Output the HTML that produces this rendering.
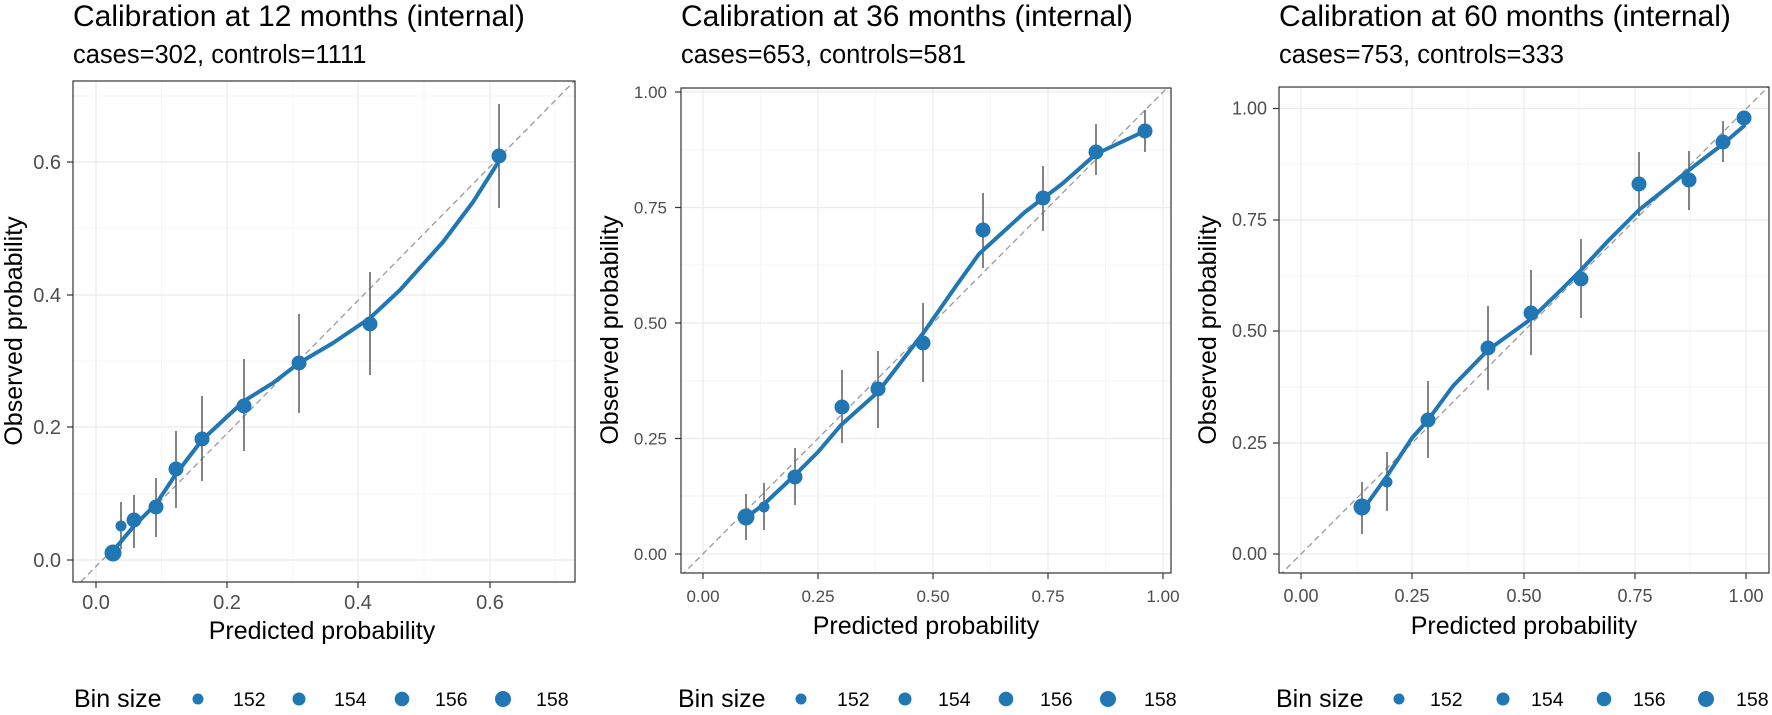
<!DOCTYPE html>
<html><head><meta charset="utf-8"><style>
html,body{margin:0;padding:0;background:#fff;}
svg{display:block;font-family:"Liberation Sans",Arial,sans-serif;}
.gM{stroke:#ebebeb;stroke-width:1.2;}
.gm{stroke:#f2f2f2;stroke-width:0.7;}
.tk{font-size:20px;fill:#4d4d4d;}
.tk2{font-size:17px;fill:#4d4d4d;}
.tk3{font-size:18px;fill:#4d4d4d;}
.at{font-size:25px;fill:#000;}
.ti{font-size:30px;fill:#000;}
.st{font-size:25.5px;fill:#000;}
.lg{font-size:25px;fill:#000;}
.ln{font-size:19.5px;fill:#000;}
.box{fill:none;stroke:#333;stroke-width:1.2;}
.dg{stroke:#999;stroke-width:1.3;stroke-dasharray:6,4;}
.eb{stroke:#666;stroke-width:1.6;}
.cv{fill:none;stroke:#2077b4;stroke-width:4;stroke-linejoin:round;stroke-linecap:round;}
.pt{fill:#2077b4;}
.tm{stroke:#333;stroke-width:1.2;}
</style></head><body>
<svg width="1772" height="715" viewBox="0 0 1772 715">
<defs>
<clipPath id="c1"><rect x="73" y="81" width="502" height="501"/></clipPath>
<clipPath id="c2"><rect x="681" y="88" width="490" height="485"/></clipPath>
<clipPath id="c3"><rect x="1279" y="87" width="490" height="486"/></clipPath>
</defs>

<!-- PANEL 1 -->
<text class="ti" x="73" y="26">Calibration at 12 months (internal)</text>
<text class="st" x="73" y="63">cases=302, controls=1111</text>
<g>
<line class="gm" x1="73" x2="575" y1="494" y2="494"/><line class="gm" x1="73" x2="575" y1="361" y2="361"/><line class="gm" x1="73" x2="575" y1="228" y2="228"/><line class="gm" x1="73" x2="575" y1="96" y2="96"/>
<line class="gm" y1="81" y2="582" x1="161.5" x2="161.5"/><line class="gm" y1="81" y2="582" x1="292.5" x2="292.5"/><line class="gm" y1="81" y2="582" x1="424" x2="424"/><line class="gm" y1="81" y2="582" x1="555" x2="555"/>
<line class="gM" x1="73" x2="575" y1="560" y2="560"/><line class="gM" x1="73" x2="575" y1="427" y2="427"/><line class="gM" x1="73" x2="575" y1="295" y2="295"/><line class="gM" x1="73" x2="575" y1="162" y2="162"/>
<line class="gM" y1="81" y2="582" x1="96" x2="96"/><line class="gM" y1="81" y2="582" x1="227" x2="227"/><line class="gM" y1="81" y2="582" x1="358" x2="358"/><line class="gM" y1="81" y2="582" x1="490" x2="490"/>
<g clip-path="url(#c1)">
<line class="dg" x1="60" y1="603" x2="600" y2="55"/>
<line class="eb" x1="121" x2="121" y1="502" y2="549"/>
<line class="eb" x1="134" x2="134" y1="495" y2="548"/>
<line class="eb" x1="156" x2="156" y1="478" y2="537"/>
<line class="eb" x1="176" x2="176" y1="431" y2="508"/>
<line class="eb" x1="202" x2="202" y1="396" y2="481"/>
<line class="eb" x1="244" x2="244" y1="359" y2="451"/>
<line class="eb" x1="299" x2="299" y1="314" y2="413"/>
<line class="eb" x1="370" x2="370" y1="272" y2="375"/>
<line class="eb" x1="499" x2="499" y1="104" y2="208"/>
<polyline class="cv" points="113,551 134,526 156,504 176,474 202,440 244,401 273,383 299,363 333,343 370,318 400,290 443,242 473,202 499,161"/>
<circle class="pt" cx="113" cy="553" r="8.5"/>
<circle class="pt" cx="121" cy="526" r="5.5"/>
<circle class="pt" cx="134" cy="520" r="7.5"/>
<circle class="pt" cx="156" cy="507" r="7.5"/>
<circle class="pt" cx="176" cy="469" r="7.5"/>
<circle class="pt" cx="202" cy="439" r="7.5"/>
<circle class="pt" cx="244" cy="406" r="7.5"/>
<circle class="pt" cx="299" cy="363" r="7.5"/>
<circle class="pt" cx="370" cy="324" r="7.5"/>
<circle class="pt" cx="499" cy="156" r="7.5"/>
</g>
<rect class="box" x="73" y="81" width="502" height="501"/>
<line class="tm" x1="67" x2="73" y1="560" y2="560"/><line class="tm" x1="67" x2="73" y1="427" y2="427"/><line class="tm" x1="67" x2="73" y1="295" y2="295"/><line class="tm" x1="67" x2="73" y1="162" y2="162"/>
<line class="tm" y1="582" y2="588" x1="96" x2="96"/><line class="tm" y1="582" y2="588" x1="227" x2="227"/><line class="tm" y1="582" y2="588" x1="358" x2="358"/><line class="tm" y1="582" y2="588" x1="490" x2="490"/>
<text class="tk" text-anchor="end" x="61" y="567">0.0</text><text class="tk" text-anchor="end" x="61" y="434">0.2</text><text class="tk" text-anchor="end" x="61" y="302">0.4</text><text class="tk" text-anchor="end" x="61" y="169">0.6</text>
<text class="tk" text-anchor="middle" x="96" y="609">0.0</text><text class="tk" text-anchor="middle" x="227" y="609">0.2</text><text class="tk" text-anchor="middle" x="358" y="609">0.4</text><text class="tk" text-anchor="middle" x="490" y="609">0.6</text>
<text class="at" text-anchor="middle" x="322" y="639">Predicted probability</text>
<text class="at" text-anchor="middle" transform="translate(22,331) rotate(-90)">Observed probability</text>
</g>
<text class="lg" x="74" y="707">Bin size</text>
<circle class="pt" cx="198" cy="699" r="5.5"/><text class="ln" x="233" y="706">152</text>
<circle class="pt" cx="299" cy="699" r="6.5"/><text class="ln" x="334" y="706">154</text>
<circle class="pt" cx="402" cy="699" r="7.3"/><text class="ln" x="435" y="706">156</text>
<circle class="pt" cx="503" cy="699" r="8"/><text class="ln" x="536" y="706">158</text>

<!-- PANEL 2 -->
<text class="ti" x="681" y="26">Calibration at 36 months (internal)</text>
<text class="st" x="681" y="63">cases=653, controls=581</text>
<line class="gm" x1="681" x2="1171" y1="496" y2="496"/><line class="gm" x1="681" x2="1171" y1="381" y2="381"/><line class="gm" x1="681" x2="1171" y1="265" y2="265"/><line class="gm" x1="681" x2="1171" y1="150" y2="150"/>
<line class="gm" y1="88" y2="573" x1="760.5" x2="760.5"/><line class="gm" y1="88" y2="573" x1="875.5" x2="875.5"/><line class="gm" y1="88" y2="573" x1="990.5" x2="990.5"/><line class="gm" y1="88" y2="573" x1="1105.5" x2="1105.5"/>
<line class="gM" x1="681" x2="1171" y1="554" y2="554"/><line class="gM" x1="681" x2="1171" y1="438.5" y2="438.5"/><line class="gM" x1="681" x2="1171" y1="323" y2="323"/><line class="gM" x1="681" x2="1171" y1="207.5" y2="207.5"/><line class="gM" x1="681" x2="1171" y1="92" y2="92"/>
<line class="gM" y1="88" y2="573" x1="703" x2="703"/><line class="gM" y1="88" y2="573" x1="818" x2="818"/><line class="gM" y1="88" y2="573" x1="933" x2="933"/><line class="gM" y1="88" y2="573" x1="1048" x2="1048"/><line class="gM" y1="88" y2="573" x1="1163" x2="1163"/>
<g clip-path="url(#c2)">
<line class="dg" x1="653" y1="604" x2="1213" y2="42"/>
<line class="eb" x1="746" x2="746" y1="494" y2="540"/>
<line class="eb" x1="764" x2="764" y1="483" y2="530"/>
<line class="eb" x1="795" x2="795" y1="448" y2="505"/>
<line class="eb" x1="842" x2="842" y1="370" y2="443"/>
<line class="eb" x1="878" x2="878" y1="351" y2="428"/>
<line class="eb" x1="923" x2="923" y1="303" y2="382"/>
<line class="eb" x1="983" x2="983" y1="193" y2="268"/>
<line class="eb" x1="1043" x2="1043" y1="166" y2="231"/>
<line class="eb" x1="1096" x2="1096" y1="124" y2="175"/>
<line class="eb" x1="1145" x2="1145" y1="110" y2="152"/>
<polyline class="cv" points="744,519 763,505 795,475 818,452 841,425 878,392 924,332 956,286 979,254 1025,212 1062,184 1096,154 1145,131"/>
<circle class="pt" cx="746" cy="517" r="8.5"/>
<circle class="pt" cx="764" cy="507" r="5.5"/>
<circle class="pt" cx="795" cy="477" r="7.5"/>
<circle class="pt" cx="842" cy="407" r="7.5"/>
<circle class="pt" cx="878" cy="389" r="7.5"/>
<circle class="pt" cx="923" cy="343" r="7.5"/>
<circle class="pt" cx="983" cy="230" r="7.5"/>
<circle class="pt" cx="1043" cy="198" r="7.5"/>
<circle class="pt" cx="1096" cy="152" r="7.5"/>
<circle class="pt" cx="1145" cy="131" r="7.5"/>
</g>
<rect class="box" x="681" y="88" width="490" height="485"/>
<line class="tm" x1="675" x2="681" y1="554" y2="554"/><line class="tm" x1="675" x2="681" y1="438.5" y2="438.5"/><line class="tm" x1="675" x2="681" y1="323" y2="323"/><line class="tm" x1="675" x2="681" y1="207.5" y2="207.5"/><line class="tm" x1="675" x2="681" y1="92" y2="92"/>
<line class="tm" y1="573" y2="579" x1="703" x2="703"/><line class="tm" y1="573" y2="579" x1="818" x2="818"/><line class="tm" y1="573" y2="579" x1="933" x2="933"/><line class="tm" y1="573" y2="579" x1="1048" x2="1048"/><line class="tm" y1="573" y2="579" x1="1163" x2="1163"/>
<text class="tk2" text-anchor="end" x="667" y="560">0.00</text><text class="tk2" text-anchor="end" x="667" y="444.5">0.25</text><text class="tk2" text-anchor="end" x="667" y="329">0.50</text><text class="tk2" text-anchor="end" x="667" y="213.5">0.75</text><text class="tk2" text-anchor="end" x="667" y="98">1.00</text>
<text class="tk2" text-anchor="middle" x="703" y="602">0.00</text><text class="tk2" text-anchor="middle" x="818" y="602">0.25</text><text class="tk2" text-anchor="middle" x="933" y="602">0.50</text><text class="tk2" text-anchor="middle" x="1048" y="602">0.75</text><text class="tk2" text-anchor="middle" x="1163" y="602">1.00</text>
<text class="at" text-anchor="middle" x="926" y="634">Predicted probability</text>
<text class="at" text-anchor="middle" transform="translate(618,330) rotate(-90)">Observed probability</text>
<text class="lg" x="678" y="707">Bin size</text>
<circle class="pt" cx="801" cy="699" r="5.5"/><text class="ln" x="837" y="706">152</text>
<circle class="pt" cx="905" cy="699" r="6.5"/><text class="ln" x="938" y="706">154</text>
<circle class="pt" cx="1006" cy="699" r="7.3"/><text class="ln" x="1040" y="706">156</text>
<circle class="pt" cx="1108" cy="699" r="8"/><text class="ln" x="1144" y="706">158</text>

<!-- PANEL 3 -->
<text class="ti" x="1279" y="26">Calibration at 60 months (internal)</text>
<text class="st" x="1279" y="63">cases=753, controls=333</text>
<line class="gm" x1="1279" x2="1769" y1="498" y2="498"/><line class="gm" x1="1279" x2="1769" y1="387" y2="387"/><line class="gm" x1="1279" x2="1769" y1="276" y2="276"/><line class="gm" x1="1279" x2="1769" y1="164" y2="164"/>
<line class="gm" y1="87" y2="573" x1="1357" x2="1357"/><line class="gm" y1="87" y2="573" x1="1468" x2="1468"/><line class="gm" y1="87" y2="573" x1="1579" x2="1579"/><line class="gm" y1="87" y2="573" x1="1690" x2="1690"/>
<line class="gM" x1="1279" x2="1769" y1="554" y2="554"/><line class="gM" x1="1279" x2="1769" y1="443" y2="443"/><line class="gM" x1="1279" x2="1769" y1="331" y2="331"/><line class="gM" x1="1279" x2="1769" y1="220" y2="220"/><line class="gM" x1="1279" x2="1769" y1="108.5" y2="108.5"/>
<line class="gM" y1="87" y2="573" x1="1301" x2="1301"/><line class="gM" y1="87" y2="573" x1="1412" x2="1412"/><line class="gM" y1="87" y2="573" x1="1524" x2="1524"/><line class="gM" y1="87" y2="573" x1="1635" x2="1635"/><line class="gM" y1="87" y2="573" x1="1746" x2="1746"/>
<g clip-path="url(#c3)">
<line class="dg" x1="1251" y1="604" x2="1801" y2="54"/>
<line class="eb" x1="1362" x2="1362" y1="482" y2="534"/>
<line class="eb" x1="1387" x2="1387" y1="452" y2="511"/>
<line class="eb" x1="1428" x2="1428" y1="381" y2="458"/>
<line class="eb" x1="1488" x2="1488" y1="306" y2="390"/>
<line class="eb" x1="1531" x2="1531" y1="270" y2="355"/>
<line class="eb" x1="1581" x2="1581" y1="239" y2="318"/>
<line class="eb" x1="1639" x2="1639" y1="152" y2="216"/>
<line class="eb" x1="1689" x2="1689" y1="151" y2="210"/>
<line class="eb" x1="1723" x2="1723" y1="121" y2="162"/>
<polyline class="cv" points="1362,511 1387,476 1412,438 1428,420 1453,386 1488,350 1531,319 1562,289 1581,270 1608,241 1639,210 1689,170 1723,144 1744,126"/>
<circle class="pt" cx="1362" cy="507" r="8.5"/>
<circle class="pt" cx="1387" cy="482" r="5.5"/>
<circle class="pt" cx="1428" cy="420" r="7.5"/>
<circle class="pt" cx="1488" cy="348" r="7.5"/>
<circle class="pt" cx="1531" cy="313" r="7.5"/>
<circle class="pt" cx="1581" cy="279" r="7.5"/>
<circle class="pt" cx="1639" cy="184" r="7.5"/>
<circle class="pt" cx="1689" cy="180" r="7.5"/>
<circle class="pt" cx="1723" cy="142" r="7.5"/>
<circle class="pt" cx="1744" cy="118" r="7.5"/>
</g>
<rect class="box" x="1279" y="87" width="490" height="486"/>
<line class="tm" x1="1273" x2="1279" y1="554" y2="554"/><line class="tm" x1="1273" x2="1279" y1="443" y2="443"/><line class="tm" x1="1273" x2="1279" y1="331" y2="331"/><line class="tm" x1="1273" x2="1279" y1="220" y2="220"/><line class="tm" x1="1273" x2="1279" y1="108.5" y2="108.5"/>
<line class="tm" y1="573" y2="579" x1="1301" x2="1301"/><line class="tm" y1="573" y2="579" x1="1412" x2="1412"/><line class="tm" y1="573" y2="579" x1="1524" x2="1524"/><line class="tm" y1="573" y2="579" x1="1635" x2="1635"/><line class="tm" y1="573" y2="579" x1="1746" x2="1746"/>
<text class="tk3" text-anchor="end" x="1267" y="560">0.00</text><text class="tk3" text-anchor="end" x="1267" y="449">0.25</text><text class="tk3" text-anchor="end" x="1267" y="337">0.50</text><text class="tk3" text-anchor="end" x="1267" y="226">0.75</text><text class="tk3" text-anchor="end" x="1267" y="114.5">1.00</text>
<text class="tk3" text-anchor="middle" x="1301" y="602">0.00</text><text class="tk3" text-anchor="middle" x="1412" y="602">0.25</text><text class="tk3" text-anchor="middle" x="1524" y="602">0.50</text><text class="tk3" text-anchor="middle" x="1635" y="602">0.75</text><text class="tk3" text-anchor="middle" x="1746" y="602">1.00</text>
<text class="at" text-anchor="middle" x="1524" y="634">Predicted probability</text>
<text class="at" text-anchor="middle" transform="translate(1216,330) rotate(-90)">Observed probability</text>
<text class="lg" x="1276" y="707">Bin size</text>
<circle class="pt" cx="1399" cy="699" r="5.5"/><text class="ln" x="1430" y="706">152</text>
<circle class="pt" cx="1503" cy="699" r="6.5"/><text class="ln" x="1531" y="706">154</text>
<circle class="pt" cx="1604" cy="699" r="7.3"/><text class="ln" x="1633" y="706">156</text>
<circle class="pt" cx="1706" cy="699" r="8"/><text class="ln" x="1736" y="706">158</text>
</svg>
</body></html>
